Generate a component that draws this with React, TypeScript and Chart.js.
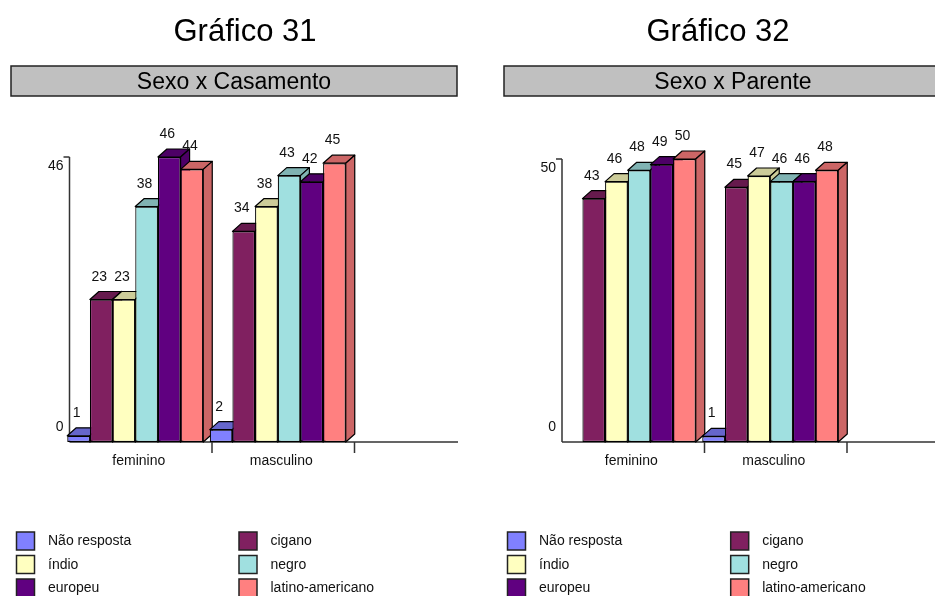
import React, { useEffect, useRef } from "react";
import { Chart, registerables } from "chart.js";

Chart.register(...registerables);

const FONT = '"Liberation Sans", Arial, Helvetica, sans-serif';
const PAGE_H = 596;
const DX = 9; // 3D depth, horizontal
const DY = 8; // 3D depth, vertical
const AXIS_SHIFT = 5.5;

const categories = ["feminino", "masculino"];
const seriesNames = ["Não resposta", "cigano", "índio", "negro", "europeu", "latino-americano"];
const frontColors = ["#8080FF", "#802060", "#FFFFC0", "#A0E0E0", "#600080", "#FF8080"];
const faceColors = ["#6666CC", "#661A4D", "#CCCC99", "#80B3B3", "#4D0066", "#CC6666"];

// Gráfico 31 — Sexo x Casamento
const g31NaoResposta: (number | null)[] = [1, 2];
const g31Cigano: (number | null)[] = [23, 34];
const g31Indio: (number | null)[] = [23, 38];
const g31Negro: (number | null)[] = [38, 43];
const g31Europeu: (number | null)[] = [46, 42];
const g31Latino: (number | null)[] = [44, 45];

// Gráfico 32 — Sexo x Parente
const g32NaoResposta: (number | null)[] = [null, 1];
const g32Cigano: (number | null)[] = [43, 45];
const g32Indio: (number | null)[] = [46, 47];
const g32Negro: (number | null)[] = [48, 46];
const g32Europeu: (number | null)[] = [49, 46];
const g32Latino: (number | null)[] = [50, 48];

type PanelLayout = {
  x: number;
  width: number;
  titleX: number;
  boxX: number;
  boxW: number;
  areaLeft: number;
  areaRight: number;
  areaTop: number;
  areaBottom: number;
  axisEnd: number;
  legendX: [number, number];
};

const legendRows = [541, 564.5, 588];

function makePlugin(title: string, subtitle: string, L: PanelLayout) {
  return {
    id: "panelDecor",
    beforeDatasetsDraw(chart: any) {
      const ctx: CanvasRenderingContext2D = chart.ctx;
      const xs = chart.scales.x;
      const ys = chart.scales.y;
      const y0 = ys.getPixelForValue(0);
      const yMax = ys.getPixelForValue(ys.max);
      const axisX = xs.left + AXIS_SHIFT;
      const catW = xs.width / categories.length;

      // axes
      ctx.save();
      ctx.strokeStyle = "#333";
      ctx.lineWidth = 1.5;
      ctx.beginPath();
      ctx.moveTo(axisX, yMax);
      ctx.lineTo(axisX, y0);
      ctx.moveTo(axisX - 6, yMax);
      ctx.lineTo(axisX, yMax);
      ctx.moveTo(axisX, y0);
      ctx.lineTo(L.axisEnd, y0);
      for (let i = 0; i < categories.length; i++) {
        const tx = xs.getPixelForValue(i) + catW / 2 + AXIS_SHIFT;
        ctx.moveTo(tx, y0);
        ctx.lineTo(tx, y0 + 11);
      }
      ctx.stroke();
      ctx.restore();

      // bars, painted left to right with 3D faces
      const items: { el: any; di: number }[] = [];
      chart.data.datasets.forEach((ds: any, di: number) => {
        const meta = chart.getDatasetMeta(di);
        meta.data.forEach((el: any, idx: number) => {
          if (ds.data[idx] == null) return;
          items.push({ el, di });
        });
      });
      items.sort((a, b) => a.el.x - b.el.x);
      for (const it of items) {
        const { x, y, base, width } = it.el.getProps(["x", "y", "base", "width"], true);
        const l = x - width / 2;
        const r = x + width / 2;
        it.el.draw(ctx, chart.chartArea);
        ctx.save();
        ctx.fillStyle = faceColors[it.di];
        ctx.strokeStyle = "#000";
        ctx.lineWidth = 1.2;
        ctx.lineJoin = "round";
        ctx.beginPath();
        ctx.moveTo(l, y);
        ctx.lineTo(l + DX, y - DY);
        ctx.lineTo(r + DX, y - DY);
        ctx.lineTo(r, y);
        ctx.closePath();
        ctx.fill();
        ctx.stroke();
        ctx.beginPath();
        ctx.moveTo(r, y);
        ctx.lineTo(r + DX, y - DY);
        ctx.lineTo(r + DX, base - DY);
        ctx.lineTo(r, base);
        ctx.closePath();
        ctx.fill();
        ctx.stroke();
        ctx.restore();
      }
      return false;
    },
    afterDraw(chart: any) {
      const ctx: CanvasRenderingContext2D = chart.ctx;
      const xs = chart.scales.x;
      const ys = chart.scales.y;
      const y0 = ys.getPixelForValue(0);
      const yMax = ys.getPixelForValue(ys.max);
      const axisX = xs.left + AXIS_SHIFT;
      ctx.save();

      // title
      ctx.fillStyle = "#000";
      ctx.font = `31px ${FONT}`;
      ctx.textAlign = "center";
      ctx.textBaseline = "alphabetic";
      ctx.fillText(title, L.titleX, 41);

      // subtitle box
      ctx.fillStyle = "#C0C0C0";
      ctx.fillRect(L.boxX, 66, L.boxW, 30);
      ctx.strokeStyle = "#222";
      ctx.lineWidth = 1.5;
      ctx.strokeRect(L.boxX, 66, L.boxW, 30);
      ctx.fillStyle = "#000";
      ctx.font = `23px ${FONT}`;
      ctx.fillText(subtitle, L.boxX + L.boxW / 2, 89);

      // y tick labels
      ctx.font = `14px ${FONT}`;
      ctx.textAlign = "right";
      ctx.fillStyle = "#111";
      ctx.fillText(String(ys.max), axisX - 6, yMax + 13);
      ctx.fillText("0", axisX - 6, y0 - 11);

      // x tick labels
      ctx.textAlign = "center";
      categories.forEach((c, i) => {
        ctx.fillText(c, xs.getPixelForValue(i) + 3.5, y0 + 23);
      });

      // data labels
      chart.data.datasets.forEach((ds: any, di: number) => {
        const meta = chart.getDatasetMeta(di);
        meta.data.forEach((el: any, idx: number) => {
          const v = ds.data[idx];
          if (v == null) return;
          ctx.fillText(String(v), el.x - 2, el.y - 19);
        });
      });

      // legend
      ctx.textAlign = "left";
      ctx.textBaseline = "middle";
      seriesNames.forEach((name, i) => {
        const col = i % 2;
        const row = Math.floor(i / 2);
        const sx = L.legendX[col];
        const cy = legendRows[row];
        ctx.fillStyle = frontColors[i];
        ctx.fillRect(sx, cy - 9, 18, 18);
        ctx.strokeStyle = "#222";
        ctx.lineWidth = 1.5;
        ctx.strokeRect(sx, cy - 9, 18, 18);
        ctx.fillStyle = "#111";
        ctx.fillText(name, sx + 31.5, cy + 0.5);
      });
      ctx.restore();
    },
  };
}

type PanelProps = {
  layout: PanelLayout;
  title: string;
  subtitle: string;
  series: (number | null)[][];
};

function Panel({ layout, title, subtitle, series }: PanelProps) {
  const ref = useRef<HTMLCanvasElement | null>(null);
  useEffect(() => {
    const canvas = ref.current;
    if (!canvas) return;
    const values = series.flat().filter((v): v is number => v != null);
    const maxV = Math.max(...values);
    const L = layout;
    const chart = new Chart(canvas, {
      type: "bar",
      data: {
        labels: categories,
        datasets: series.map((d, i) => ({
          label: seriesNames[i],
          data: d,
          backgroundColor: frontColors[i],
          borderColor: "#000",
          borderWidth: 1.2,
          borderSkipped: false,
          categoryPercentage: 0.9544,
          barPercentage: 1,
        })),
      },
      options: {
        responsive: false,
        animation: false,
        events: [],
        layout: {
          padding: {
            left: L.areaLeft,
            right: L.width - L.areaRight,
            top: L.areaTop,
            bottom: PAGE_H - L.areaBottom,
          },
        },
        scales: {
          x: { display: false, offset: true },
          y: { display: false, min: 0, max: maxV },
        },
        plugins: {
          legend: { display: false },
          title: { display: false },
          tooltip: { enabled: false },
        },
      },
      plugins: [makePlugin(title, subtitle, L)],
    } as any);
    return () => chart.destroy();
  }, []);
  return (
    <canvas
      ref={ref}
      width={layout.width}
      height={PAGE_H}
      style={{ position: "absolute", left: layout.x, top: 0, width: layout.width, height: PAGE_H }}
    />
  );
}

const leftLayout: PanelLayout = {
  x: 0,
  width: 467,
  titleX: 245,
  boxX: 11,
  boxW: 446,
  areaLeft: 64,
  areaRight: 349,
  areaTop: 157,
  areaBottom: 442,
  axisEnd: 458,
  legendX: [16.5, 239],
};

const rightLayout: PanelLayout = {
  x: 467,
  width: 468,
  titleX: 251,
  boxX: 37,
  boxW: 458,
  areaLeft: 89.5,
  areaRight: 374.5,
  areaTop: 159,
  areaBottom: 442,
  axisEnd: 468,
  legendX: [40.5, 263.7],
};

export default function App() {
  return (
    <div
      style={{
        position: "fixed",
        left: 0,
        top: 0,
        width: 935,
        height: PAGE_H,
        background: "#fff",
        overflow: "hidden",
      }}
    >
      <Panel
        layout={leftLayout}
        title="Gráfico 31"
        subtitle="Sexo x Casamento"
        series={[g31NaoResposta, g31Cigano, g31Indio, g31Negro, g31Europeu, g31Latino]}
      />
      <Panel
        layout={rightLayout}
        title="Gráfico 32"
        subtitle="Sexo x Parente"
        series={[g32NaoResposta, g32Cigano, g32Indio, g32Negro, g32Europeu, g32Latino]}
      />
    </div>
  );
}
